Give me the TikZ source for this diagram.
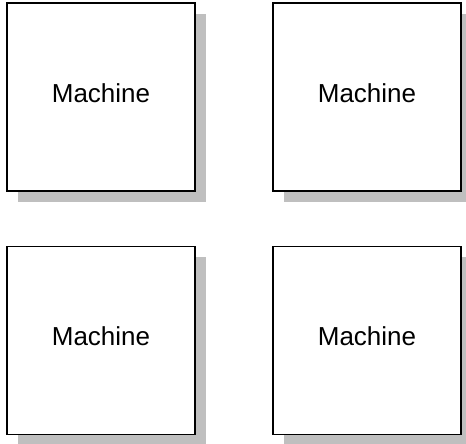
\documentclass[tikz,border=0pt]{standalone}
\usepackage{fontspec}
\setmainfont{Liberation Sans}
\usetikzlibrary{shadows}
\begin{document}
\begin{tikzpicture}[x=1pt, y=1pt, every node/.style={rectangle, draw, fill=white, minimum size=188pt, line width=1.2pt, text depth=8pt, font=\fontsize{26}{31}\selectfont, drop shadow={shadow xshift=11pt, shadow yshift=-11pt, fill=black!25, opacity=1}}]
        \useasboundingbox (0, 0) rectangle (466, 444);
        \node (M1) at (101, 347) {Machine};
        \node (M2) at (367, 347) {Machine};
        \node (M3) at (101, 103.5) {Machine};
        \node (M4) at (367, 103.5) {Machine};
    \end{tikzpicture}
\end{document}
